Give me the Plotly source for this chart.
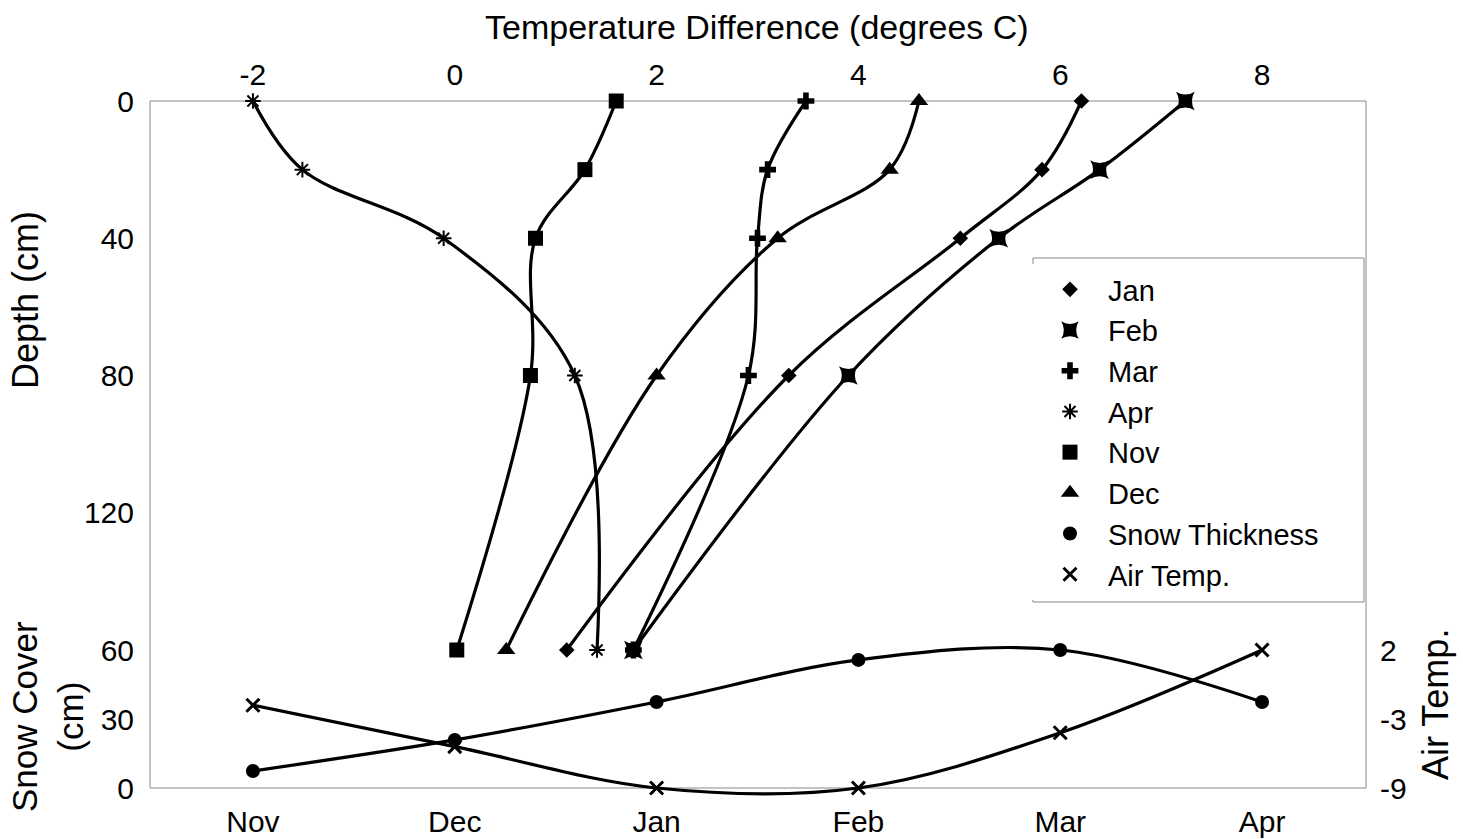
import plotly.graph_objects as go

# Depth profiles: temperature difference (degrees C) at depths (cm)
depths = [0, 20, 40, 80, 160]
jan = [6.21, 5.82, 5.01, 3.31, 1.11]
feb = [7.24, 6.39, 5.39, 3.90, 1.77]
mar = [3.48, 3.10, 3.00, 2.91, 1.77]
apr = [-2.00, -1.51, -0.11, 1.19, 1.41]
nov = [1.60, 1.29, 0.80, 0.75, 0.02]
dec = [4.60, 4.31, 3.20, 2.00, 0.51]

# Monthly series
months = ["Nov", "Dec", "Jan", "Feb", "Mar", "Apr"]
snow_thickness = [7.4, 20.9, 37.4, 55.7, 60.0, 37.4]
air_temp = [-2.4, -5.7, -9.0, -9.0, -4.6, 2.0]

depth_ticks = [0, 40, 80, 120]
temp_ticks = [-2, 0, 2, 4, 6, 8]
temp_ticktext = ["-2", "0", "2", "4", "6", "8"]
snow_ticks = [0, 30, 60]
air_tickvals = [-9, -3.5, 2]
air_ticktext = ["-9", "-3", "2"]

FONT = "Liberation Sans, Arial, sans-serif"
BLACK = "black"
LW = 3.2

# ---- layout geometry (pixels) ----
W, H = 1463, 839
PL, PR, PT, PB = 150, 1366, 101, 800      # plotting area (extended a bit below frame)
FRAME_BOTTOM = 788                          # visible frame bottom / snow & air zero line
SPLIT = 650                                 # boundary between depth panel and snow panel
HP = PB - PT
WP = PR - PL


def py(pix):
    """pixel y -> paper y"""
    return (PB - pix) / HP


def px(pix):
    """pixel x -> paper x"""
    return (pix - PL) / WP


# snow axis: 0 at FRAME_BOTTOM, 60 at SPLIT
snow_scale = (FRAME_BOTTOM - SPLIT) / 60.0
snow_range = [-(PB - FRAME_BOTTOM) / snow_scale, 60 + (SPLIT - PT) / snow_scale]
# air temp axis: -9 at FRAME_BOTTOM, 2 at SPLIT
air_scale = (FRAME_BOTTOM - SPLIT) / 11.0
air_range = [-9 - (PB - FRAME_BOTTOM) / air_scale, 2 + (SPLIT - PT) / air_scale]

fig = go.Figure()

profiles = [
    ("Jan", jan, dict(symbol="diamond", size=12)),
    ("Feb", feb, dict(symbol="star-square", size=17)),
    ("Mar", mar, dict(symbol="cross", size=14)),
    ("Apr", apr, dict(symbol="asterisk-open", size=13, line=dict(width=2, color=BLACK))),
    ("Nov", nov, dict(symbol="square", size=15)),
    ("Dec", dec, dict(symbol="triangle-up", size=16)),
]

spline = dict(color=BLACK, width=LW, shape="spline", smoothing=1.0)

for name, vals, mk in profiles:
    fig.add_trace(go.Scatter(x=vals, y=depths, mode="lines", xaxis="x", yaxis="y",
                             line=spline, showlegend=False, hoverinfo="skip"))
fig.add_trace(go.Scatter(x=months, y=snow_thickness, mode="lines", xaxis="x2", yaxis="y2",
                         line=spline, showlegend=False, hoverinfo="skip"))
fig.add_trace(go.Scatter(x=months, y=air_temp, mode="lines", xaxis="x2", yaxis="y3",
                         line=spline, showlegend=False, hoverinfo="skip"))

for name, vals, mk in profiles:
    m = dict(color=BLACK)
    m.update(mk)
    fig.add_trace(go.Scatter(x=vals, y=depths, mode="markers", name=name,
                             xaxis="x", yaxis="y", marker=m, cliponaxis=False))
fig.add_trace(go.Scatter(x=months, y=snow_thickness, mode="markers", name="Snow Thickness",
                         xaxis="x2", yaxis="y2",
                         marker=dict(symbol="circle", size=14, color=BLACK), cliponaxis=False))
fig.add_trace(go.Scatter(x=months, y=air_temp, mode="markers", name="Air Temp.",
                         xaxis="x2", yaxis="y3",
                         marker=dict(symbol="x-thin-open", size=13, color=BLACK,
                                     line=dict(width=3, color=BLACK)),
                         cliponaxis=False))

tickfont = dict(family=FONT, size=30, color=BLACK)
common = dict(showgrid=False, zeroline=False, showline=False, ticks="",
              tickfont=tickfont, automargin=False)

fig.update_layout(
    width=W, height=H,
    margin=dict(l=PL, r=W - PR, t=PT, b=H - PB, autoexpand=False),
    paper_bgcolor="white", plot_bgcolor="rgba(0,0,0,0)",
    font=dict(family=FONT, color=BLACK, size=30),
    xaxis=dict(range=[-3.02, 9.03], side="top", anchor="y", tickvals=temp_ticks,
               ticktext=temp_ticktext, ticklabelstandoff=9, **common),
    xaxis2=dict(type="category", range=[-0.51, 5.515], anchor="y2", side="bottom",
                ticklabelstandoff=1, **common),
    yaxis=dict(domain=[py(SPLIT), 1], range=[160, 0], tickvals=depth_ticks,
               anchor="x", ticklabelstandoff=15, **common),
    yaxis2=dict(domain=[0, 1], range=snow_range, tickvals=snow_ticks, anchor="x2",
                ticklabelstandoff=15, **common),
    yaxis3=dict(overlaying="y2", side="right", anchor="x2", range=air_range,
                tickvals=air_tickvals, ticktext=air_ticktext, ticklabelstandoff=13,
                **common),
    legend=dict(x=px(1032), y=py(264), xanchor="left", yanchor="top",
                bgcolor="white", borderwidth=0,
                font=dict(family=FONT, size=29, color=BLACK),
                itemwidth=66, tracegroupgap=0),
    shapes=[
        dict(type="rect", xref="paper", yref="paper", x0=0, x1=1,
             y0=py(FRAME_BOTTOM), y1=1, line=dict(color="#888", width=1), layer="below"),
        dict(type="rect", xref="paper", yref="paper", x0=px(1033), x1=px(1364),
             y0=py(602), y1=py(258), line=dict(color="#888", width=1), layer="above"),
    ],
    annotations=[
        dict(text="Temperature Difference (degrees C)", xref="paper", yref="paper",
             x=px(757), y=py(27), xanchor="center", yanchor="middle",
             showarrow=False, font=dict(family=FONT, size=34, color=BLACK)),
        dict(text="Depth (cm)", xref="paper", yref="paper",
             x=px(25), y=py(300), xanchor="center", yanchor="middle",
             textangle=-90, showarrow=False, font=dict(family=FONT, size=36, color=BLACK)),
        dict(text="Snow Cover<br>(cm)", xref="paper", yref="paper",
             x=px(47), y=py(716), xanchor="center", yanchor="middle",
             textangle=-90, showarrow=False, font=dict(family=FONT, size=35, color=BLACK)),
        dict(text="Air Temp.", xref="paper", yref="paper",
             x=px(1435), y=py(705), xanchor="center", yanchor="middle",
             textangle=-90, showarrow=False, font=dict(family=FONT, size=36, color=BLACK)),
    ],
)

fig.write_html("out.html", config={"displayModeBar": False},
               post_script="document.body.style.margin='0';document.body.style.padding='0';")
